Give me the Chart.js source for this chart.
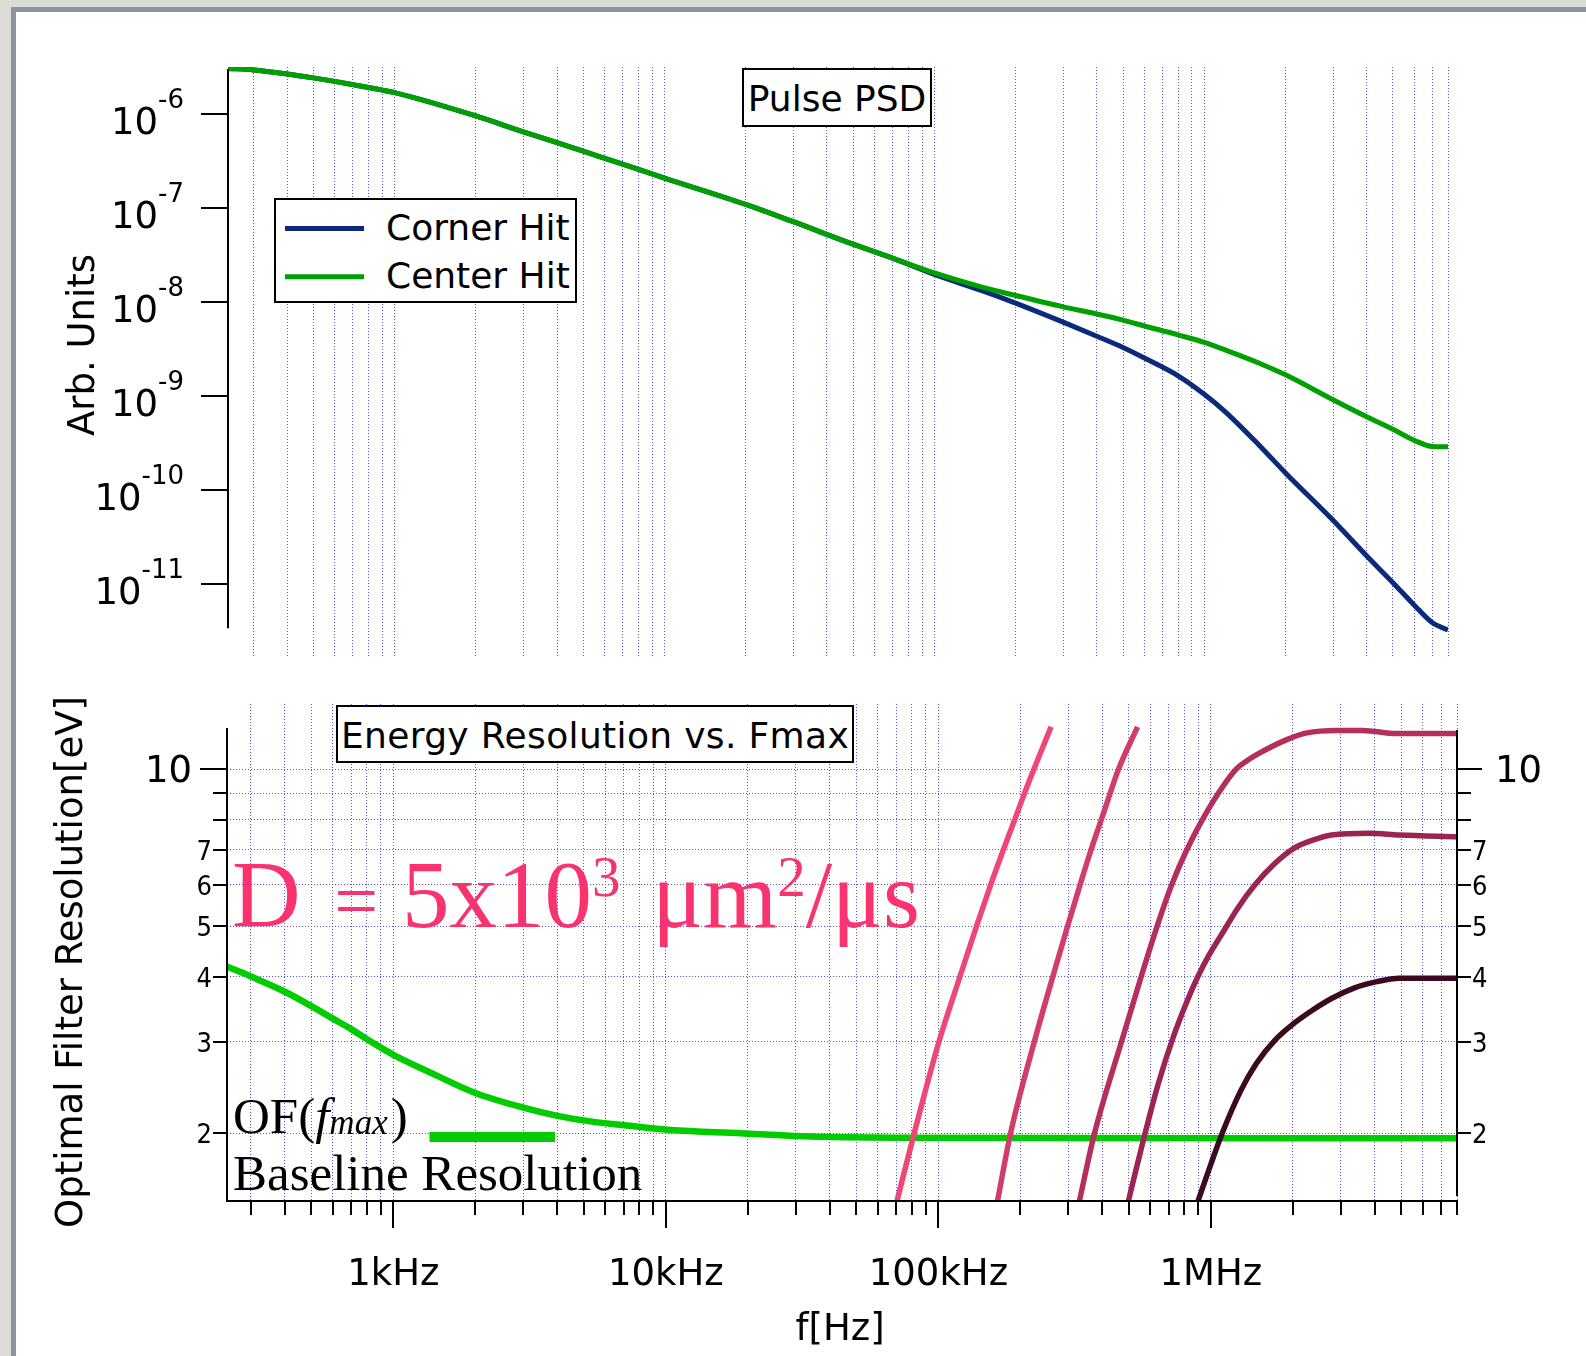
<!DOCTYPE html>
<html lang="en">
<head>
<meta charset="UTF-8">
<title>Pulse PSD / Energy Resolution vs. Fmax</title>
<script src="https://cdn.jsdelivr.net/npm/chart.js"></script>
<style>
  html, body { margin: 0; padding: 0; }
  body { width: 1586px; height: 1356px; position: relative; overflow: hidden; background: #dddbd6; }
  #panel { position: absolute; left: 11px; top: 7px; right: 0; bottom: 0; background: #fff;
           border-left: 5px solid #8795a2; border-top: 5px solid #8795a2; }
  canvas { position: absolute; left: 0; }
  #psdChart { top: 0; }
  #resChart { top: 680px; }
  #notes { position: absolute; left: 0; top: 0; pointer-events: none; }
</style>
</head>
<body>
<div id="panel"></div>
<canvas id="psdChart" width="1586" height="680"></canvas>
<canvas id="resChart" width="1586" height="676"></canvas>

<svg id="notes" width="1586" height="1356" font-family="DejaVu Sans" fill="#000">
  <!-- top graph: title box + legend -->
  <rect x="743" y="69" width="188" height="57" fill="#fff" stroke="#000" stroke-width="2"/>
  <text x="837" y="111" font-size="36" text-anchor="middle">Pulse PSD</text>

  <rect x="275" y="199" width="301" height="103" fill="#fff" stroke="#000" stroke-width="2"/>
  <line x1="285" y1="228.5" x2="364" y2="228.5" stroke="#0b2b7a" stroke-width="5"/>
  <line x1="285" y1="276.7" x2="364" y2="276.7" stroke="#00a000" stroke-width="5"/>
  <text x="386" y="240" font-size="36">Corner Hit</text>
  <text x="386" y="288.3" font-size="36">Center Hit</text>

  <text transform="translate(94,345) rotate(-90)" font-size="37" text-anchor="middle">Arb. Units</text>

  <!-- bottom graph -->
  <rect x="337" y="706" width="516" height="56" fill="#fff" stroke="#000" stroke-width="2"/>
  <text x="595" y="748" font-size="36" text-anchor="middle" letter-spacing="0.35">Energy Resolution vs. Fmax</text>

  <text transform="translate(82,962) rotate(-90)" font-size="37" text-anchor="middle">Optimal Filter Resolution[eV]</text>
  <text x="840" y="1340" font-size="37" text-anchor="middle">f[Hz]</text>

  <text x="232" y="927" font-family="Liberation Serif" font-size="95" fill="#f8336f" style="white-space:pre">D <tspan font-size="78" dx="10">=</tspan> 5x10<tspan font-size="57" dy="-31">3</tspan><tspan dy="31" dx="8"> μm</tspan><tspan font-size="57" dy="-31">2</tspan><tspan dy="31">/μs</tspan></text>

  <text x="233" y="1133" font-family="Liberation Serif" font-size="51">OF(<tspan font-style="italic">f</tspan><tspan font-style="italic" font-size="35" dy="1">max</tspan><tspan dy="-1" dx="3">)</tspan></text>
  <line x1="429.5" y1="1137" x2="555" y2="1137" stroke="#00cc00" stroke-width="10"/>
  <text x="233" y="1190" font-family="Liberation Serif" font-size="51">Baseline Resolution</text>
</svg>

<script>
// ---- Pulse PSD (top graph) ----
const psdFreq = [241.5, 300, 400, 500, 600, 700, 800, 1000, 2000, 3000, 4000, 5000, 7000,
  1e4, 2e4, 3e4, 5e4, 7e4, 1e5, 1.5e5, 2e5, 3e5, 4e5, 5e5, 6e5, 8e5,
  1e6, 1.2e6, 1.6e6, 2e6, 3e6, 4e6, 5e6, 6e6, 7e6, 8e6];
const cornerHit = [3.08e-6, 2.96e-6, 2.68e-6, 2.44e-6, 2.24e-6, 2.07e-6, 1.93e-6, 1.70e-6, 9.6e-7, 6.5e-7, 5.0e-7, 4.05e-7, 2.95e-7,
  2.1e-7, 1.1e-7, 7.2e-8, 4.15e-8, 2.95e-8, 1.98e-8, 1.33e-8, 9.8e-9, 6.15e-9, 4.35e-9, 3.3e-9, 2.55e-9, 1.65e-9,
  1.05e-9, 6.8e-10, 3.0e-10, 1.53e-10, 4.8e-11, 2.0e-11, 1.04e-11, 6.0e-12, 3.9e-12, 3.27e-12];
const centerHit = [3.08e-6, 2.96e-6, 2.68e-6, 2.44e-6, 2.24e-6, 2.07e-6, 1.93e-6, 1.70e-6, 9.6e-7, 6.5e-7, 5.0e-7, 4.05e-7, 2.95e-7,
  2.1e-7, 1.1e-7, 7.2e-8, 4.15e-8, 2.95e-8, 2.05e-8, 1.45e-8, 1.18e-8, 8.95e-9, 7.5e-9, 6.45e-9, 5.6e-9, 4.5e-9,
  3.75e-9, 3.1e-9, 2.25e-9, 1.69e-9, 9.2e-10, 6.05e-10, 4.45e-10, 3.4e-10, 2.92e-10, 2.9e-10];
const psdYTicks = [1e-6, 1e-7, 1e-8, 1e-9, 1e-10, 1e-11];
const psdYExps = ['-6', '-7', '-8', '-9', '-10', '-11'];
const psdAxisRange = [3.4e-12, 3.03e-6];

// ---- Energy resolution (bottom graph) ----
const ofFreq = [245.1, 300, 400, 500, 600, 700, 800, 900, 1000, 1400, 2000, 3000, 4000, 5200, 7800, 10400, 18800, 30000, 70000, 8e6];
const ofRes = [4.18, 4.00, 3.74, 3.51, 3.32, 3.17, 3.03, 2.92, 2.83, 2.60, 2.39, 2.24, 2.16, 2.11, 2.06, 2.03, 2.00, 1.975, 1.96, 1.956];

const riseFreqA = [70400, 81500, 100500, 120000, 138000, 155500, 173000, 190500, 207000, 224000, 259000];
const riseResA = [1.48, 2, 3, 4, 5, 6, 7, 8, 9, 10, 12.07];
const riseFreqB = [164700, 184000, 225000, 263000, 298000, 331000, 363000, 396000, 427000, 458000, 538000];
const riseResB = [1.48, 2, 3, 4, 5, 6, 7, 8, 9, 10, 12.07];
const riseFreqC = [329000, 374000, 470000, 555000, 635000, 718000, 815000, 930000, 1065000, 1235000, 1360000, 1500000, 1880000, 2250000, 2900000, 3600000, 4800000, 8000000];
const riseResC = [1.48, 2, 3, 4, 5, 6, 7, 8, 9, 10, 10.4, 10.73, 11.38, 11.75, 11.88, 11.88, 11.72, 11.72];
const riseFreqD = [497600, 565000, 641000, 729000, 820000, 896000, 985000, 1090000, 1251000, 1466000, 1719000, 2015000, 2364000, 2770000, 3810000, 4910000, 8000000];
const riseResD = [1.48, 1.94, 2.49, 3.07, 3.6, 4.0, 4.4, 4.8, 5.4, 6.04, 6.60, 7.05, 7.31, 7.48, 7.54, 7.48, 7.42];
const riseFreqE = [896000, 1002000, 1100000, 1290000, 1466000, 1719000, 2015000, 2364000, 2770000, 3350000, 4060000, 4910000, 8000000];
const riseResE = [1.48, 1.75, 2.0, 2.42, 2.72, 3.02, 3.25, 3.45, 3.63, 3.80, 3.91, 3.97, 3.97];
const riseColors = ['#ee4678', '#d13d6b', '#b52e5c', '#9b2450', '#3b0a1f'];

const resYTicks = [2, 3, 4, 5, 6, 7, 8, 9, 10];
const resYLabels = ['2', '3', '4', '5', '6', '7', '', '', '10'];
const resXDecades = [1e3, 1e4, 1e5, 1e6];
const resXLabels = ['1kHz', '10kHz', '100kHz', '1MHz'];
const resAxisTop = 12;

// minor grid / tick positions: 1..9 x each decade
const gridSteps = [1, 2, 3, 4, 5, 6, 7, 8, 9];
const gridDecades = [100, 1e3, 1e4, 1e5, 1e6];
function gridValues(min, max) {
  const out = [];
  gridDecades.forEach(d => gridSteps.forEach(s => {
    const v = s * d;
    if (v > min && v <= max * 1.0001) out.push(v);
  }));
  return out;
}

const gridBlue = '#5050ff';
const bigFont = '37px "DejaVu Sans"';
const smallFont = '27px "DejaVu Sans Condensed", "DejaVu Sans"';

function pts(xs, ys) { return xs.map((x, i) => ({ x: x, y: ys[i] })); }
function strokeLine(ctx, x1, y1, x2, y2) {
  ctx.beginPath(); ctx.moveTo(x1, y1); ctx.lineTo(x2, y2); ctx.stroke();
}

const psdAxes = {
  id: 'psdAxes',
  afterDraw(chart) {
    const { ctx, chartArea: a } = chart;
    const y = chart.scales.y;
    ctx.save();
    ctx.strokeStyle = '#000'; ctx.fillStyle = '#000'; ctx.lineWidth = 2;
    strokeLine(ctx, a.left, y.getPixelForValue(psdAxisRange[1]), a.left, y.getPixelForValue(psdAxisRange[0]));
    ctx.textAlign = 'right';
    psdYTicks.forEach((v, i) => {
      const py = Math.round(y.getPixelForValue(v));
      strokeLine(ctx, a.left - 27, py, a.left, py);
      ctx.font = '26px "DejaVu Sans"';
      const ew = ctx.measureText(psdYExps[i]).width;
      ctx.fillText(psdYExps[i], a.left - 44, py - 6);
      ctx.font = bigFont;
      ctx.fillText('10', a.left - 44 - ew, py + 20);
    });
    ctx.restore();
  }
};

const resAxes = {
  id: 'resAxes',
  afterDraw(chart) {
    const { ctx, chartArea: a } = chart;
    const { x, y } = chart.scales;
    const yTop = y.getPixelForValue(resAxisTop);
    ctx.save();
    ctx.strokeStyle = '#000'; ctx.fillStyle = '#000'; ctx.lineWidth = 2;
    strokeLine(ctx, a.left, yTop, a.left, a.bottom);
    strokeLine(ctx, a.right, yTop + 2, a.right, a.bottom - 5);
    strokeLine(ctx, a.left - 1, a.bottom, a.right + 1, a.bottom);

    resYTicks.forEach((v, i) => {
      const py = Math.round(y.getPixelForValue(v));
      const lbl = resYLabels[i];
      const big = lbl === '10';
      strokeLine(ctx, a.left - (big ? 27 : 14), py, a.left, py);
      strokeLine(ctx, a.right, py, a.right + (big ? 25 : 14), py);
      if (!lbl) return;
      if (big) {
        ctx.font = bigFont;
        ctx.textAlign = 'right'; ctx.fillText(lbl, a.left - 35, py + 12.5);
        ctx.textAlign = 'left'; ctx.fillText(lbl, a.right + 38, py + 12.5);
      } else {
        ctx.font = smallFont;
        ctx.textAlign = 'right'; ctx.fillText(lbl, a.left - 15, py + 10);
        ctx.textAlign = 'left'; ctx.fillText(lbl, a.right + 15, py + 10);
      }
    });

    gridValues(x.min, x.max).forEach(v => {
      const px = Math.round(x.getPixelForValue(v));
      const major = resXDecades.includes(v);
      strokeLine(ctx, px, a.bottom, px, a.bottom + (major ? 27 : 14));
    });
    ctx.font = bigFont; ctx.textAlign = 'center';
    resXDecades.forEach((v, i) => {
      ctx.fillText(resXLabels[i], x.getPixelForValue(v), a.bottom + 84);
    });
    ctx.restore();
  }
};

function logAxis(min, max, tickVals, showGrid) {
  return {
    type: 'logarithmic', min: min, max: max,
    afterBuildTicks: s => { s.ticks = tickVals.map(v => ({ value: v })); },
    ticks: { display: false, autoSkip: false },
    grid: { display: showGrid, color: gridBlue, lineWidth: 1, drawTicks: false },
    border: { display: false, dash: [1, 2] }
  };
}

const common = {
  responsive: false, animation: false, devicePixelRatio: 1, events: [],
  plugins: { legend: { display: false }, tooltip: { enabled: false } },
  elements: { point: { radius: 0 }, line: { cubicInterpolationMode: 'monotone' } }
};

new Chart(document.getElementById('psdChart'), {
  type: 'line',
  data: {
    datasets: [
      { label: 'Corner Hit', data: pts(psdFreq, cornerHit), borderColor: '#0b2b7a', borderWidth: 5, order: 1 },
      { label: 'Center Hit', data: pts(psdFreq, centerHit), borderColor: '#00a000', borderWidth: 5, order: 0 }
    ]
  },
  options: Object.assign({}, common, {
    layout: { padding: { left: 228, right: 138, top: 67, bottom: 24 } },
    scales: {
      x: logAxis(241.5, 8e6, gridValues(241.5, 8e6), true),
      y: logAxis(1.726e-12, 3.186e-6, psdYTicks, false)
    }
  }),
  plugins: [psdAxes]
});

const riseSets = [
  [riseFreqA, riseResA], [riseFreqB, riseResB], [riseFreqC, riseResC],
  [riseFreqD, riseResD], [riseFreqE, riseResE]
];

new Chart(document.getElementById('resChart'), {
  type: 'line',
  data: {
    datasets: [
      { label: 'Baseline Resolution', data: pts(ofFreq, ofRes), borderColor: '#00cc00', borderWidth: 6.5, order: 1 }
    ].concat(riseSets.map((s, i) => ({
      label: 'OF(fmax) ' + (i + 1), data: pts(s[0], s[1]), borderColor: riseColors[i], borderWidth: 5.5, order: 0
    })))
  },
  options: Object.assign({}, common, {
    layout: { padding: { left: 227, right: 129, top: 24, bottom: 155 } },
    scales: {
      x: logAxis(245.1, 8e6, gridValues(245.1, 8e6), true),
      y: logAxis(1.4822, 13.35, resYTicks, true)
    }
  }),
  plugins: [resAxes]
});
</script>
</body>
</html>
